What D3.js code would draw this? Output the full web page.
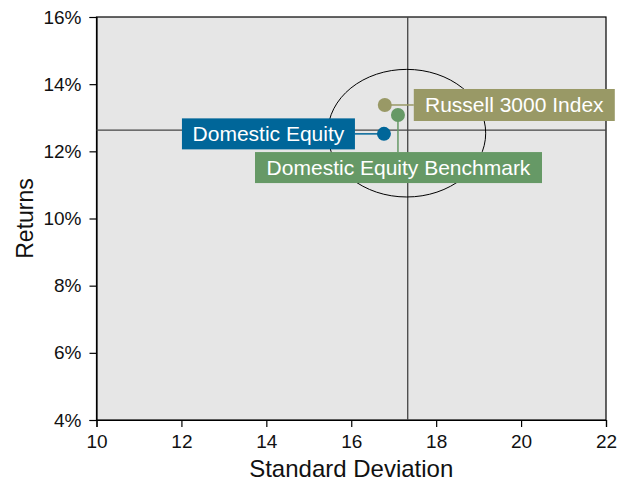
<!DOCTYPE html>
<html><head><meta charset="utf-8">
<script src="https://cdn.jsdelivr.net/npm/d3@7"></script>
<style>body{margin:0;background:#fff}text{font-family:"Liberation Sans",Arial,sans-serif}</style>
</head><body><svg id="c" width="628" height="481"></svg>
<script>
const names = ["Domestic Equity", "Russell 3000 Index", "Domestic Equity Benchmark"];
const stdDev = [16.77, 16.79, 17.10];
const returns = [12.52, 13.38, 13.08];
const colors = ["#006699", "#999966", "#669966"];
const xTicks = [10, 12, 14, 16, 18, 20, 22];
const yTicks = [4, 6, 8, 10, 12, 14, 16];
const crossX = 17.33, crossY = 12.63;
const ellipseR = [1.86, 1.9];

const svg = d3.select("#c");
const m = {l: 96.5, r: 606, t: 17, b: 420};
const x = d3.scaleLinear().domain([10, 22]).range([m.l, m.r]);
const y = d3.scaleLinear().domain([4, 16]).range([m.b, m.t]);

svg.append("rect").attr("x", m.l).attr("y", m.t).attr("width", m.r - m.l).attr("height", m.b - m.t)
  .attr("fill", "#e6e6e6").attr("stroke", "#000").attr("stroke-width", 1.2);

const ax = svg.append("g").attr("transform", `translate(0,${m.b})`)
  .call(d3.axisBottom(x).tickValues(xTicks).tickSize(7).tickPadding(8).tickFormat(d3.format("d")));
const ay = svg.append("g").attr("transform", `translate(${m.l},0)`)
  .call(d3.axisLeft(y).tickValues(yTicks).tickSize(7).tickPadding(8).tickFormat(d => d + "%"));
[ax, ay].forEach(a => {
  a.select(".domain").attr("stroke", "#000").attr("stroke-width", 1.2);
  a.selectAll(".tick line").attr("stroke", "#000").attr("stroke-width", 1.2);
  a.selectAll("text").attr("font-size", 19).attr("fill", "#111").style("font-family", "Liberation Sans, Arial, sans-serif");
});

// crosshair
svg.append("line").attr("x1", x(crossX)).attr("x2", x(crossX)).attr("y1", m.t).attr("y2", m.b)
  .attr("stroke", "#444").attr("stroke-width", 1.3);
svg.append("line").attr("x1", m.l).attr("x2", m.r).attr("y1", y(crossY)).attr("y2", y(crossY))
  .attr("stroke", "#444").attr("stroke-width", 1.3);
// ellipse
svg.append("ellipse").attr("cx", x(crossX) - 1).attr("cy", y(crossY) + 3)
  .attr("rx", x(crossX + ellipseR[0]) - x(crossX)).attr("ry", y(crossY) - y(crossY + ellipseR[1]))
  .attr("fill", "none").attr("stroke", "#000").attr("stroke-width", 1);

// labels: offsets from point (layout)
const lab = [
  {dx: -29, dy: 0, anchor: "right", w: 173, h: 31},
  {dx: 29, dy: 0, anchor: "left", w: 201, h: 32},
  {dx: 0, dy: 37, anchor: "below", w: 287, h: 31}
];
names.forEach((n, i) => {
  const px = x(stdDev[i]), py = y(returns[i]), L = lab[i];
  let bx, by, cx2, cy2;
  if (L.anchor === "right") { bx = px + L.dx - L.w; by = py - L.h / 2; cx2 = px + L.dx; cy2 = py; }
  else if (L.anchor === "left") { bx = px + L.dx; by = py - L.h / 2; cx2 = bx; cy2 = py; }
  else { bx = 255; by = py + L.dy; cx2 = px; cy2 = by; }
  svg.append("line").attr("x1", px).attr("y1", py).attr("x2", cx2).attr("y2", cy2)
    .attr("stroke", colors[i]).attr("stroke-width", 1.5);
  svg.append("rect").attr("x", bx).attr("y", by).attr("width", L.w).attr("height", L.h).attr("fill", colors[i]);
  svg.append("text").attr("x", bx + L.w / 2).attr("y", by + L.h / 2 + 7.5).attr("text-anchor", "middle")
    .attr("fill", "#fff").attr("font-size", 21).text(n);
});
names.forEach((n, i) => {
  svg.append("circle").attr("cx", x(stdDev[i])).attr("cy", y(returns[i])).attr("r", 7).attr("fill", colors[i]);
});

svg.append("text").attr("x", (m.l + m.r) / 2).attr("y", 477).attr("text-anchor", "middle")
  .attr("font-size", 24).attr("fill", "#111").text("Standard Deviation");
svg.append("text").attr("transform", `translate(33,${(m.t + m.b) / 2}) rotate(-90)`).attr("text-anchor", "middle")
  .attr("font-size", 23).attr("fill", "#111").text("Returns");
</script></body></html>
